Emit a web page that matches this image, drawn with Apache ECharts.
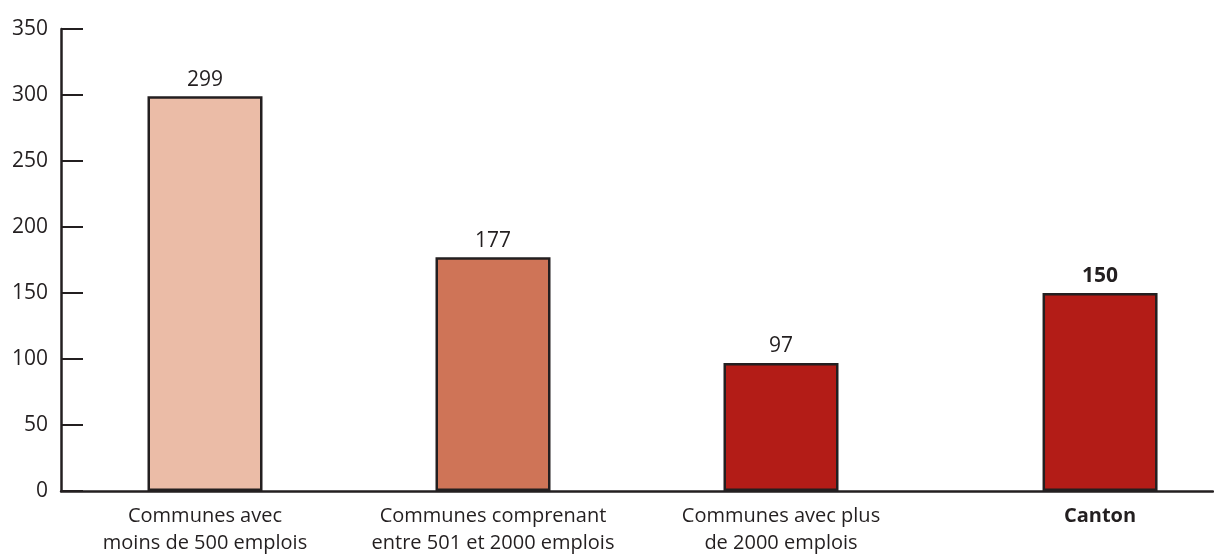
<!DOCTYPE html>
<html>
<head>
<meta charset="utf-8">
<script src="https://cdn.jsdelivr.net/npm/echarts@6/dist/echarts.min.js"></script>
<style>
  html, body { margin: 0; padding: 0; background: #ffffff; }
  #chart { width: 1214px; height: 557px; }
</style>
</head>
<body>
<div id="chart"></div>
<script>
// Categories and values
const categories = [
  'Communes avec\nmoins de 500 emplois',
  'Communes comprenant\nentre 501 et 2000 emplois',
  'Communes avec plus\nde 2000 emplois',
  'Canton'
];
const communesValues = [299, 177, 97, '-'];
const cantonValues = ['-', '-', '-', 150];
const yTicks = [0, 50, 100, 150, 200, 250, 300, 350];

const ink = '#231f20';
const font = '"Open Sans", "Noto Sans", sans-serif';
const barColors = ['#ebbca7', '#cf7457', '#b31c17', '#b31c17'];

const chart = echarts.init(document.getElementById('chart'), null, { renderer: 'canvas' });

chart.setOption({
  backgroundColor: '#ffffff',
  animation: false,
  grid: { left: 61, right: 1, top: 29, bottom: 66 },
  xAxis: {
    type: 'category',
    data: categories,
    axisLine: { lineStyle: { color: ink, width: 2.5 } },
    axisTick: { show: false },
    axisLabel: {
      color: ink,
      fontFamily: font,
      fontSize: 20,
      lineHeight: 27,
      margin: 12,
      interval: 0,
      formatter: function (v) {
        return v === 'Canton' ? '{c|' + v + '}' : v;
      },
      rich: {
        c: { fontWeight: 'bold', fontSize: 20, fontFamily: font, color: ink, padding: [0, 0, 0, 62] }
      }
    }
  },
  yAxis: {
    type: 'value',
    min: yTicks[0],
    max: yTicks[yTicks.length - 1],
    interval: 50,
    axisLine: { show: true, lineStyle: { color: ink, width: 2.5 } },
    axisTick: { show: true, inside: true, length: 22, lineStyle: { color: ink, width: 2 } },
    splitLine: { show: false },
    axisLabel: { color: ink, fontFamily: font, fontSize: 21, margin: 13 }
  },
  series: [
    {
      // spacer slot that pushes the Canton bar to the right of its band
      type: 'bar',
      data: [],
      barWidth: 115,
      silent: true
    },
    {
      type: 'bar',
      data: communesValues,
      barWidth: 115,
      barGap: '-73%',
      itemStyle: {
        color: function (p) { return barColors[p.dataIndex]; },
        borderColor: ink,
        borderWidth: 2.5
      },
      label: {
        show: true,
        position: 'top',
        distance: 6,
        color: ink,
        fontFamily: font,
        fontSize: 21
      }
    },
    {
      type: 'bar',
      data: cantonValues,
      barWidth: 115,
      barGap: '-73%',
      itemStyle: {
        color: barColors[3],
        borderColor: ink,
        borderWidth: 2.5
      },
      label: {
        show: true,
        position: 'top',
        distance: 6,
        color: ink,
        fontFamily: font,
        fontSize: 21,
        fontWeight: 'bold'
      }
    }
  ]
});
</script>
</body>
</html>
